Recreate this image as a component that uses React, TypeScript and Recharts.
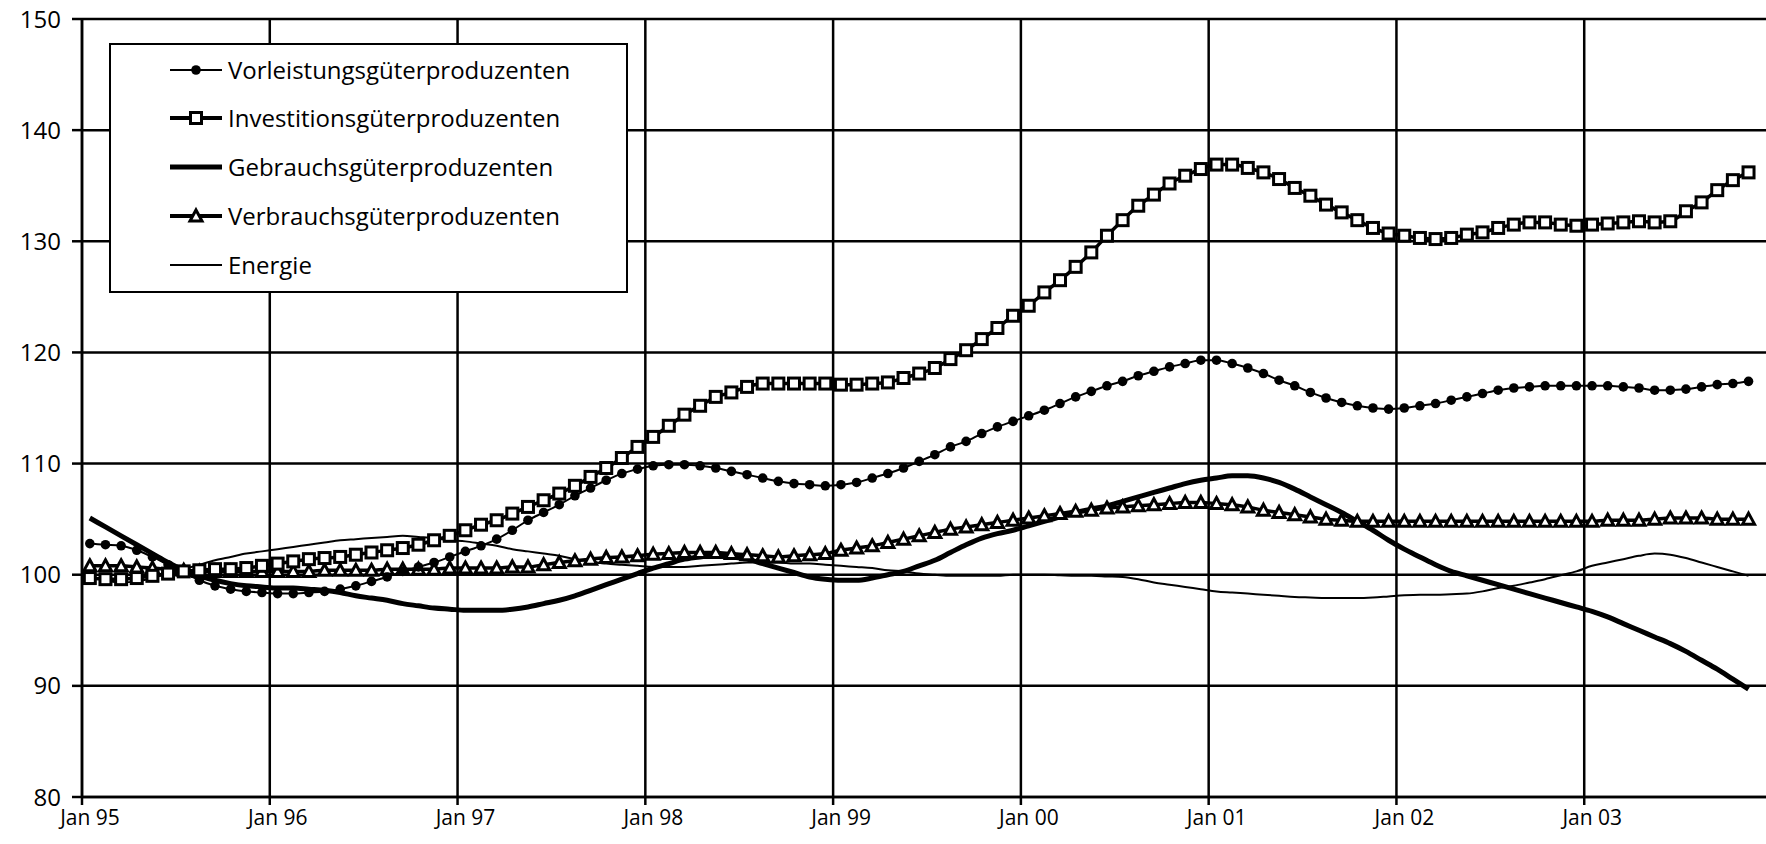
import React from 'react';
import { LineChart, Line, XAxis, YAxis, CartesianGrid, Legend } from 'recharts';

// Monthly index values, Jan 95 .. Nov 03 (107 months)
const vorleistung = [
  102.8, 102.7, 102.6, 102.2, 101.6, 100.9, 100.2, 99.5, 99.0, 98.7, 98.5, 98.4,
  98.3, 98.3, 98.4, 98.5, 98.7, 99.0, 99.4, 99.8, 100.3, 100.7, 101.1, 101.6,
  102.1, 102.6, 103.2, 104.0, 104.9, 105.6, 106.3, 107.1, 107.8, 108.5, 109.1, 109.5,
  109.8, 109.9, 109.9, 109.8, 109.6, 109.3, 109.0, 108.7, 108.4, 108.2, 108.1, 108.0,
  108.1, 108.3, 108.7, 109.1, 109.6, 110.2, 110.8, 111.5, 112.0, 112.7, 113.3, 113.8,
  114.3, 114.8, 115.4, 116.0, 116.5, 117.0, 117.4, 117.9, 118.3, 118.7, 119.0, 119.3,
  119.3, 119.0, 118.6, 118.1, 117.5, 117.0, 116.4, 115.9, 115.5, 115.2, 115.0, 114.9,
  115.0, 115.2, 115.4, 115.7, 116.0, 116.3, 116.6, 116.8, 116.9, 117.0, 117.0, 117.0,
  117.0, 117.0, 116.9, 116.8, 116.6, 116.6, 116.7, 116.9, 117.1, 117.2, 117.4,
];

const investitionen = [
  99.7, 99.6, 99.6, 99.7, 99.9, 100.1, 100.3, 100.4, 100.5, 100.5, 100.6, 100.8,
  101.0, 101.2, 101.4, 101.5, 101.6, 101.8, 102.0, 102.2, 102.4, 102.7, 103.1, 103.5,
  104.0, 104.5, 104.9, 105.5, 106.1, 106.7, 107.3, 108.0, 108.8, 109.6, 110.5, 111.5,
  112.4, 113.4, 114.4, 115.2, 116.0, 116.4, 116.9, 117.2, 117.2, 117.2, 117.2, 117.2,
  117.1, 117.1, 117.2, 117.3, 117.7, 118.1, 118.6, 119.4, 120.2, 121.2, 122.2, 123.3,
  124.2, 125.4, 126.5, 127.7, 129.0, 130.5, 131.9, 133.2, 134.2, 135.2, 135.9, 136.5,
  136.9, 136.9, 136.6, 136.2, 135.6, 134.8, 134.1, 133.3, 132.6, 131.9, 131.2, 130.7,
  130.5, 130.3, 130.2, 130.3, 130.6, 130.8, 131.2, 131.5, 131.7, 131.7, 131.5, 131.4,
  131.5, 131.6, 131.7, 131.8, 131.7, 131.8, 132.7, 133.5, 134.6, 135.5, 136.2,
];

const gebrauch = [
  105.1, 104.3, 103.5, 102.7, 101.9, 101.1, 100.4, 99.9, 99.5, 99.2, 99.0, 98.9,
  98.8, 98.8, 98.7, 98.6, 98.4, 98.1, 97.9, 97.7, 97.4, 97.2, 97.0, 96.9,
  96.8, 96.8, 96.8, 96.9, 97.1, 97.4, 97.7, 98.1, 98.6, 99.1, 99.6, 100.1,
  100.6, 101.0, 101.4, 101.6, 101.7, 101.6, 101.4, 101.0, 100.6, 100.2, 99.8, 99.6,
  99.5, 99.5, 99.7, 100.0, 100.3, 100.8, 101.3, 102.0, 102.7, 103.3, 103.7, 104.0,
  104.4, 104.8, 105.2, 105.6, 105.9, 106.2, 106.6, 107.0, 107.4, 107.8, 108.2, 108.5,
  108.7, 108.9, 108.9, 108.7, 108.3, 107.7, 107.0, 106.3, 105.6, 104.8, 104.0, 103.1,
  102.3, 101.6, 100.9, 100.3, 99.9, 99.5, 99.1, 98.7, 98.3, 97.9, 97.5, 97.1,
  96.7, 96.2, 95.6, 95.0, 94.4, 93.8, 93.1, 92.3, 91.5, 90.6, 89.7,
];

const verbrauch = [
  100.8, 100.8, 100.8, 100.7, 100.6, 100.5, 100.4, 100.3, 100.3, 100.3, 100.3, 100.3,
  100.3, 100.3, 100.3, 100.4, 100.4, 100.4, 100.4, 100.5, 100.5, 100.5, 100.5, 100.6,
  100.6, 100.6, 100.6, 100.7, 100.7, 100.9, 101.1, 101.25, 101.4, 101.55, 101.6, 101.7,
  101.85, 101.9, 102.0, 102.0, 102.0, 101.9, 101.8, 101.7, 101.6, 101.7, 101.8, 101.9,
  102.2, 102.4, 102.6, 102.9, 103.2, 103.5, 103.8, 104.1, 104.3, 104.5, 104.7, 104.9,
  105.1, 105.3, 105.5, 105.7, 105.8, 106.0, 106.1, 106.2, 106.3, 106.4, 106.5, 106.5,
  106.4, 106.3, 106.1, 105.8, 105.6, 105.4, 105.2, 105.0, 104.9, 104.8, 104.8, 104.8,
  104.8, 104.8, 104.8, 104.8, 104.8, 104.8, 104.8, 104.8, 104.8, 104.8, 104.8, 104.8,
  104.8, 104.9, 104.9, 104.9, 105.0, 105.1, 105.1, 105.1, 105.0, 105.0, 105.0,
];

const energie = [
  99.8, 99.5, 99.3, 99.4, 99.7, 100.1, 100.5, 100.9, 101.3, 101.6, 101.9, 102.1,
  102.3, 102.5, 102.7, 102.9, 103.1, 103.2, 103.3, 103.4, 103.5, 103.4, 103.3, 103.1,
  103.0, 102.8, 102.6, 102.3, 102.1, 101.9, 101.7, 101.4, 101.2, 101.0, 100.9, 100.8,
  100.7, 100.7, 100.7, 100.8, 100.9, 101.0, 101.1, 101.1, 101.1, 101.0, 101.0, 100.9,
  100.8, 100.7, 100.6, 100.4, 100.3, 100.1, 100.0, 99.9, 99.9, 99.9, 99.9, 100.0,
  100.0, 100.0, 99.95, 99.9, 99.9, 99.85, 99.8, 99.6, 99.3, 99.1, 98.9, 98.7,
  98.5, 98.4, 98.3, 98.2, 98.1, 98.0, 97.95, 97.9, 97.9, 97.9, 97.95, 98.05,
  98.15, 98.2, 98.2, 98.25, 98.3, 98.5, 98.8, 99.0, 99.3, 99.6, 99.95, 100.3,
  100.8, 101.1, 101.4, 101.7, 101.9, 101.8, 101.5, 101.1, 100.7, 100.3, 99.9,
];

const yearLabels = ['Jan 95', 'Jan 96', 'Jan 97', 'Jan 98', 'Jan 99', 'Jan 00', 'Jan 01', 'Jan 02', 'Jan 03'];
const yearTicks = [0, 12, 24, 36, 48, 60, 72, 84, 96];
const yTicks = [80, 90, 100, 110, 120, 130, 140, 150];

const seriesNames = [
  'Vorleistungsgüterproduzenten',
  'Investitionsgüterproduzenten',
  'Gebrauchsgüterproduzenten',
  'Verbrauchsgüterproduzenten',
  'Energie',
];

// points sit in the middle of each month
const data = vorleistung.map((v, i) => ({
  t: i + 0.5,
  vorleistung: v,
  investitionen: investitionen[i],
  gebrauch: gebrauch[i],
  verbrauch: verbrauch[i],
  energie: energie[i],
}));

const FONT = '"Open Sans", "DejaVu Sans", sans-serif';

const RoundDot = (props: any) => {
  const { cx, cy, index } = props;
  if (cx == null || cy == null) return <g key={`c-${index}`} />;
  return <circle key={`c-${index}`} cx={cx} cy={cy} r={4.8} fill="#000" />;
};

const SquareDot = (props: any) => {
  const { cx, cy, index } = props;
  if (cx == null || cy == null) return <g key={`s-${index}`} />;
  return (
    <rect key={`s-${index}`} x={cx - 5.5} y={cy - 5.5} width={11} height={11}
      fill="#fff" stroke="#000" strokeWidth={3} />
  );
};

const TriangleDot = (props: any) => {
  const { cx, cy, index } = props;
  if (cx == null || cy == null) return <g key={`t-${index}`} />;
  return (
    <polygon key={`t-${index}`}
      points={`${cx},${cy - 6} ${cx + 6},${cy + 5} ${cx - 6},${cy + 5}`}
      fill="#fff" stroke="#000" strokeWidth={3} strokeLinejoin="miter" />
  );
};

const XTick = (props: any) => {
  const { x, payload } = props;
  const idx = yearTicks.indexOf(payload.value);
  return (
    <text x={x + 8} y={825} textAnchor="middle" fontFamily={FONT} fontSize={21} fontWeight={500} fill="#000">
      {idx >= 0 ? yearLabels[idx] : ''}
    </text>
  );
};

const legendStyles = [
  { width: 2, marker: 'dot' },
  { width: 4, marker: 'square' },
  { width: 5, marker: 'none' },
  { width: 4, marker: 'triangle' },
  { width: 2, marker: 'none' },
];

const renderLegend = () => (
  <div style={{
    width: 519, height: 250, boxSizing: 'border-box', border: '2.5px solid #000',
    background: '#fff', position: 'relative', fontFamily: FONT, fontSize: 24, color: '#000',
  }}>
    {seriesNames.map((name, i) => {
      const st = legendStyles[i];
      const cy = 15;
      return (
        <div key={name} style={{
          position: 'absolute', left: 0, top: 24.5 + i * 48.8 - 15, height: 30,
          display: 'flex', alignItems: 'center', whiteSpace: 'nowrap',
        }}>
          <svg width={117} height={30} style={{ display: 'block' }}>
            <line x1={59} x2={111} y1={cy} y2={cy} stroke="#000" strokeWidth={st.width} />
            {st.marker === 'dot' && <circle cx={85} cy={cy} r={4.8} fill="#000" />}
            {st.marker === 'square' && (
              <rect x={79.5} y={cy - 5.5} width={11} height={11} fill="#fff" stroke="#000" strokeWidth={3} />
            )}
            {st.marker === 'triangle' && (
              <polygon points={`85,${cy - 6} 91,${cy + 5} 79,${cy + 5}`} fill="#fff" stroke="#000" strokeWidth={3} />
            )}
          </svg>
          <span style={{ lineHeight: '30px' }}>{name}</span>
        </div>
      );
    })}
  </div>
);

export default function App() {
  return (
    <div style={{ position: 'absolute', left: 0, top: 0, width: 1766, height: 844, overflow: 'hidden', background: '#fff' }}>
      <LineChart width={1780} height={844} data={data}
        margin={{ top: 19, right: 8, left: 0, bottom: 17 }}>
        <CartesianGrid stroke="#000" strokeWidth={2.5} />
        <XAxis type="number" dataKey="t" domain={[0, 108]} ticks={yearTicks} allowDataOverflow
          height={30} tickSize={8} tick={<XTick />} interval={0}
          axisLine={{ stroke: '#000', strokeWidth: 2.5 }} tickLine={{ stroke: '#000', strokeWidth: 2.5 }} />
        <YAxis domain={[80, 150]} ticks={yTicks} width={82} tickSize={10} tickMargin={11} interval={0}
          axisLine={{ stroke: '#000', strokeWidth: 2.5 }} tickLine={{ stroke: '#000', strokeWidth: 2.5 }}
          tick={{ fill: '#000', fontSize: 24, fontFamily: FONT, fontWeight: 500 }} />
        <Legend content={renderLegend} layout="vertical" align="center" verticalAlign="middle"
          wrapperStyle={{ left: 109, top: 43, width: 519, height: 250 }} />
        <Line type="monotone" dataKey="energie" name={seriesNames[4]} stroke="#000" strokeWidth={2}
          dot={false} activeDot={false} isAnimationActive={false} />
        <Line type="monotone" dataKey="gebrauch" name={seriesNames[2]} stroke="#000" strokeWidth={5}
          dot={false} activeDot={false} isAnimationActive={false} />
        <Line type="monotone" dataKey="verbrauch" name={seriesNames[3]} stroke="#000" strokeWidth={3.5}
          dot={TriangleDot} activeDot={false} isAnimationActive={false} />
        <Line type="monotone" dataKey="vorleistung" name={seriesNames[0]} stroke="#000" strokeWidth={2}
          dot={RoundDot} activeDot={false} isAnimationActive={false} />
        <Line type="monotone" dataKey="investitionen" name={seriesNames[1]} stroke="#000" strokeWidth={3.5}
          dot={SquareDot} activeDot={false} isAnimationActive={false} />
      </LineChart>
    </div>
  );
}
